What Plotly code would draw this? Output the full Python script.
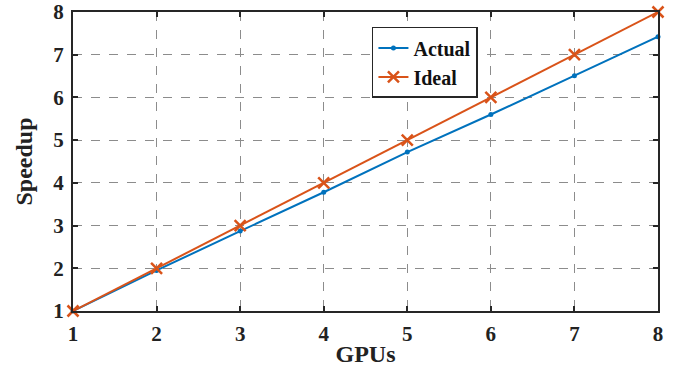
import plotly.graph_objects as go

gpus = [1, 2, 3, 4, 5, 6, 7, 8]
actual = [1.0, 1.95, 2.87, 3.78, 4.72, 5.6, 6.51, 7.42]
ideal = [1, 2, 3, 4, 5, 6, 7, 8]

FAM = "Liberation Serif"
INK = "#222222"

fig = go.Figure()
fig.add_trace(go.Scatter(x=gpus, y=actual, name="<b>Actual</b>", mode="lines+markers",
                         cliponaxis=False,
                         line=dict(color="#0072BD", width=2),
                         marker=dict(symbol="circle", size=5, color="#0072BD")))
fig.add_trace(go.Scatter(x=gpus, y=ideal, name="<b>Ideal</b>", mode="lines+markers",
                         cliponaxis=False,
                         line=dict(color="#D95319", width=2),
                         marker=dict(symbol="x-thin", size=11,
                                     line=dict(color="#D95319", width=2.5))))

axis_common = dict(showline=True, linecolor="#262626", linewidth=2, mirror="ticks",
                   ticks="inside", ticklen=5, tickwidth=2, tickcolor="#262626",
                   showgrid=True, gridcolor="#8c8c8c", griddash="dash", gridwidth=1,
                   zeroline=False, tickfont=dict(family=FAM, size=21, color=INK),
                   tickprefix="<b>", ticksuffix="</b>", range=[1, 8], dtick=1,
                   ticklabelstandoff=3, automargin=False)

fig.update_xaxes(title=dict(text="<b>GPUs</b>", font=dict(family=FAM, size=24, color=INK), standoff=0),
                 **axis_common)
fig.update_yaxes(title=dict(text="<b>Speedup</b>", font=dict(family=FAM, size=24, color=INK), standoff=14),
                 **axis_common)

fig.update_layout(
    width=679, height=369,
    margin=dict(l=73, r=21, t=12, b=58),
    paper_bgcolor="white", plot_bgcolor="white",
    font=dict(family=FAM, size=21, color=INK),
    legend=dict(x=0.511, y=0.95, xanchor="left", yanchor="top",
                bordercolor="#262626", borderwidth=1.5, bgcolor="white",
                font=dict(family=FAM, size=20, color="#111111"),
                itemwidth=30, tracegroupgap=0),
)

fig.write_html("out.html")
